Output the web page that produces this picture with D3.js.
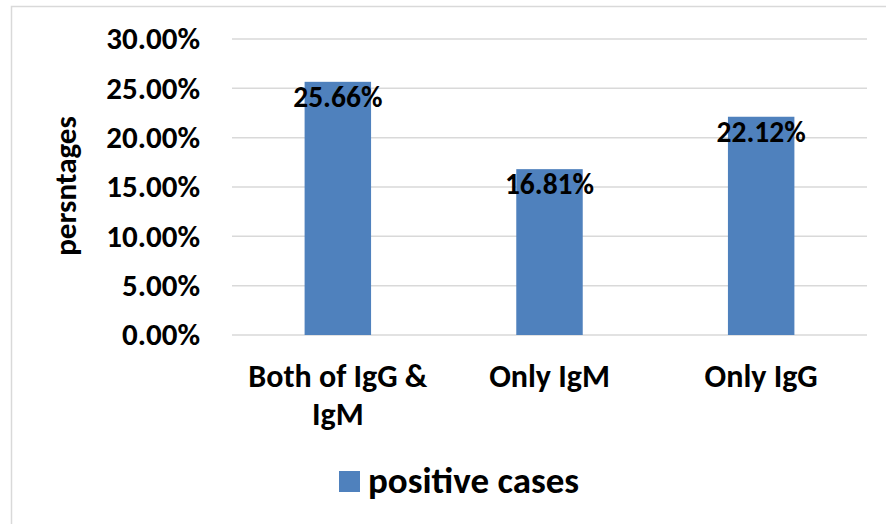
<!DOCTYPE html>
<html>
<head>
<meta charset="utf-8">
<script src="https://cdn.jsdelivr.net/npm/d3@7"></script>
<style>
  body { margin: 0; background: #fff; }
  text { font-family: Carlito, Calibri, Lato, "Open Sans", sans-serif; font-weight: bold; fill: #000; }
</style>
</head>
<body>
<div id="chart-area"></div>
<script>
// data
var categories = [["Both of IgG &", "IgM"], ["Only IgM"], ["Only IgG"]];
var values = [0.2566, 0.1681, 0.2212];
var valueLabels = ["25.66%", "16.81%", "22.12%"];
var yTicks = [0, 0.05, 0.10, 0.15, 0.20, 0.25, 0.30];
var seriesName = "positive cases";
var yTitle = "persntages";

var W = 886, H = 524;
var svg = d3.select("#chart-area").append("svg")
    .attr("width", W)
    .attr("height", H);

// chart frame (right / bottom edges fall outside the picture)
svg.append("rect")
    .attr("x", 11.5).attr("y", 6.5)
    .attr("width", W + 10).attr("height", H + 10)
    .attr("fill", "#fff")
    .attr("stroke", "#d9d9d9")
    .attr("stroke-width", 1.5);

var x = d3.scaleBand()
    .domain(d3.range(categories.length))
    .range([232, 867])
    .paddingInner(0.686)
    .paddingOuter(0.343);

var y = d3.scaleLinear()
    .domain([0, 0.30])
    .range([335, 39]);

// gridlines
svg.append("g").selectAll("line")
    .data(yTicks)
    .enter().append("line")
        .attr("x1", 232).attr("x2", 867)
        .attr("y1", (d) => y(d)).attr("y2", (d) => y(d))
        .attr("stroke", "#d9d9d9")
        .attr("stroke-width", 1.5);

// y axis labels
var yAxis = d3.axisLeft(y)
    .tickValues(yTicks)
    .tickFormat(d3.format(".2%"))
    .tickSize(0)
    .tickPadding(0);

var yg = svg.append("g")
    .attr("transform", "translate(200,0)")
    .call(yAxis);
yg.select(".domain").remove();
yg.selectAll("text")
    .attr("font-size", 31)
    .attr("font-family", null);

// bars
svg.append("g").selectAll("rect")
    .data(values)
    .enter().append("rect")
        .attr("x", (d, i) => x(i))
        .attr("y", (d) => y(d))
        .attr("width", x.bandwidth())
        .attr("height", (d) => y(0) - y(d))
        .attr("fill", "#4f81bd");

// value labels
svg.append("g").selectAll("text")
    .data(values)
    .enter().append("text")
        .attr("x", (d, i) => x(i) + x.bandwidth() / 2)
        .attr("y", (d) => y(d) + 15)
        .attr("text-anchor", "middle")
        .attr("dominant-baseline", "central")
        .attr("font-size", 29.5)
        .text((d, i) => valueLabels[i]);

// category labels
var cat = svg.append("g").selectAll("text")
    .data(categories)
    .enter().append("text")
        .attr("text-anchor", "middle")
        .attr("font-size", 32)
        .attr("x", (d, i) => x(i) + x.bandwidth() / 2)
        .attr("y", 387);
cat.selectAll("tspan")
    .data((d) => d)
    .enter().append("tspan")
        .attr("x", function () { return d3.select(this.parentNode).attr("x"); })
        .attr("dy", (d, i) => i == 0 ? 0 : 38)
        .text((d) => d);

// y axis title
svg.append("text")
    .attr("transform", "translate(76,186) rotate(-90)")
    .attr("text-anchor", "middle")
    .attr("font-size", 31)
    .text(yTitle);

// legend
svg.append("rect")
    .attr("x", 339).attr("y", 471)
    .attr("width", 21).attr("height", 21)
    .attr("fill", "#4f81bd");
svg.append("text")
    .attr("x", 368).attr("y", 493)
    .attr("font-size", 37)
    .text(seriesName);
</script>
</body>
</html>
